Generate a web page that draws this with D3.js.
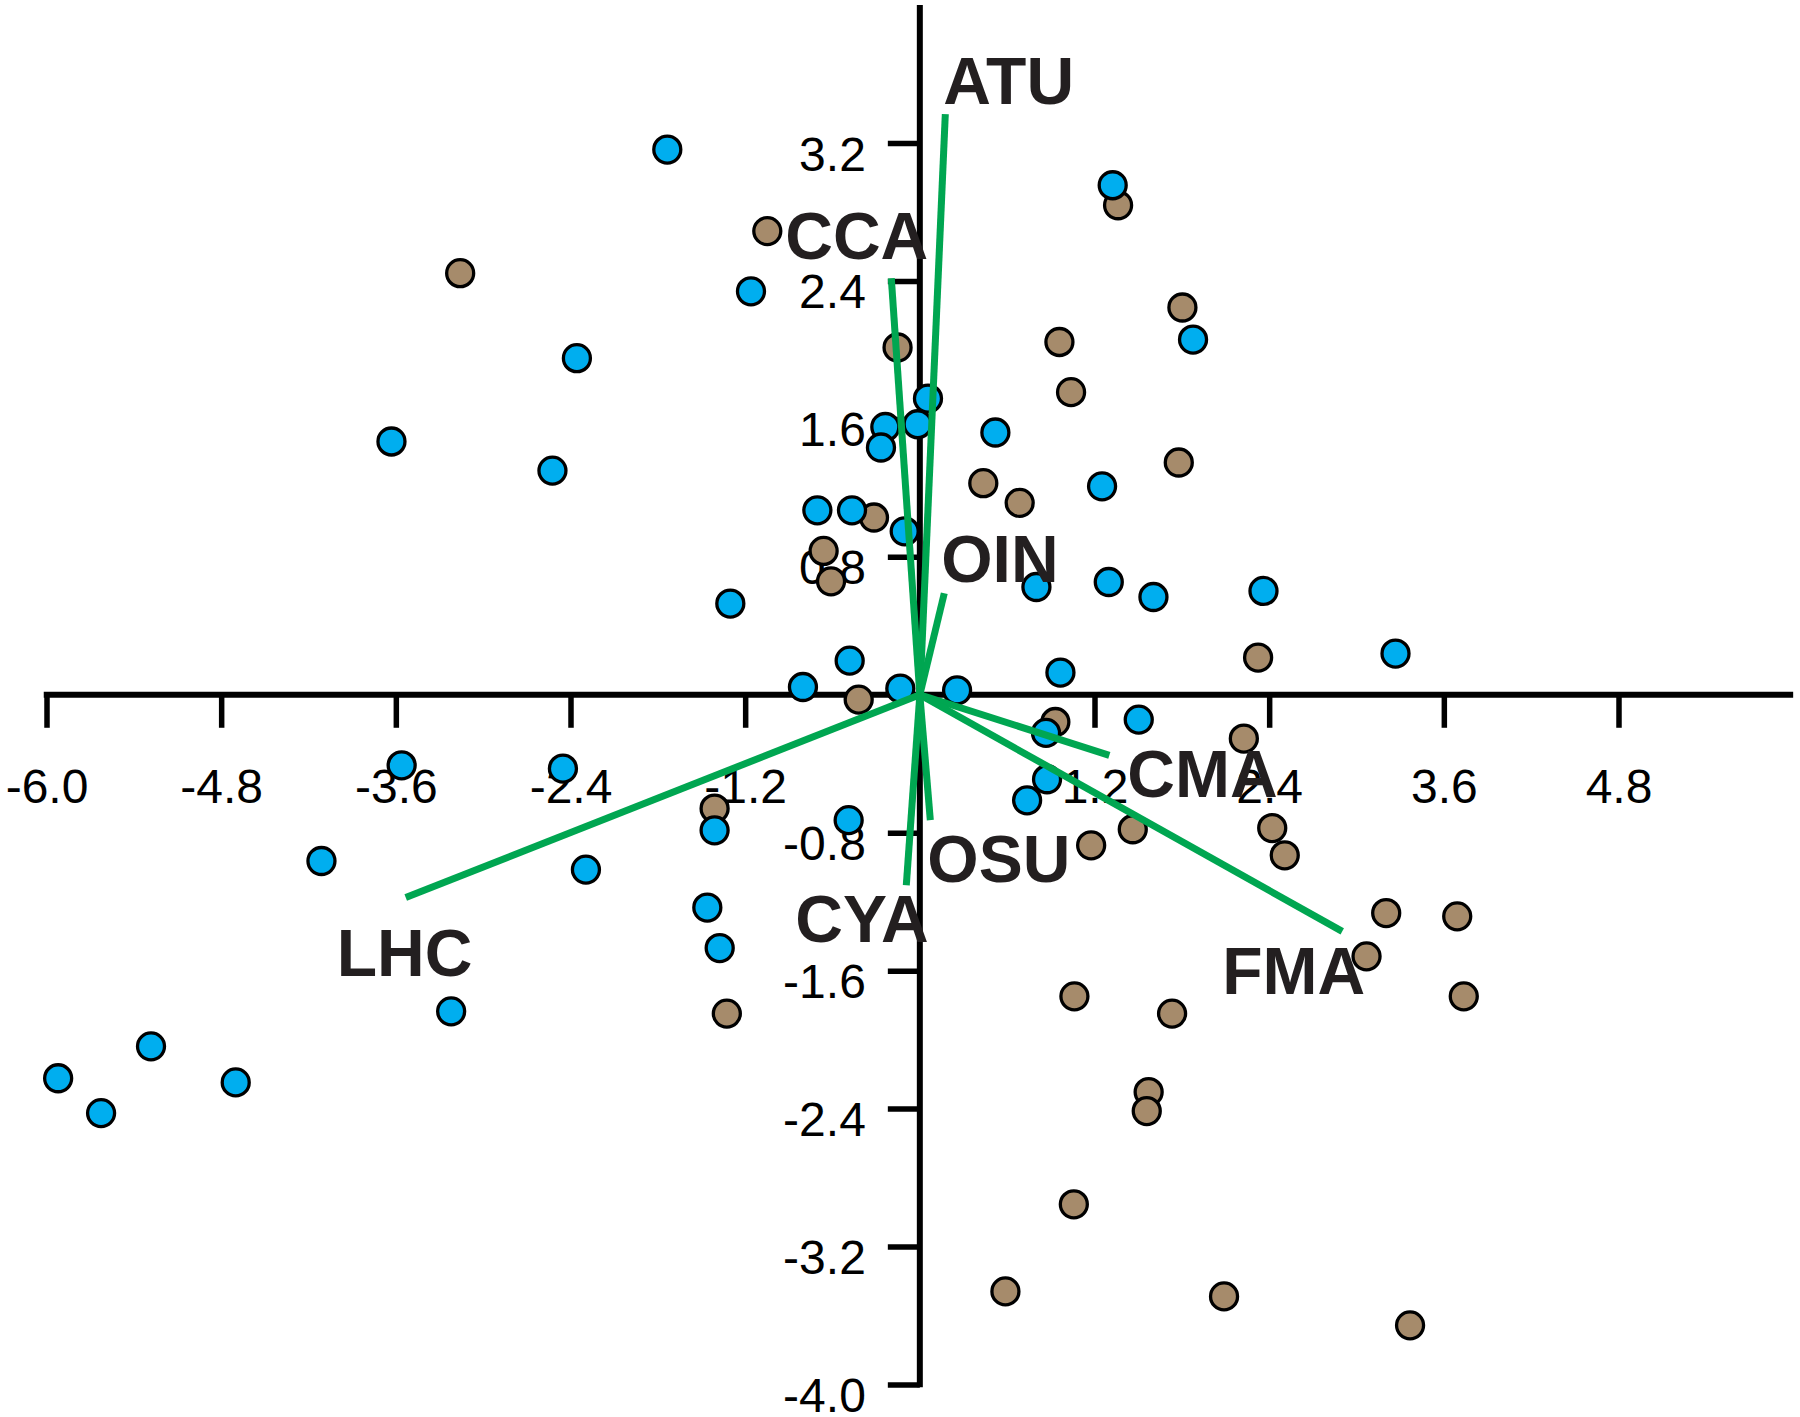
<!DOCTYPE html>
<html>
<head>
<meta charset="utf-8">
<script src="https://cdn.jsdelivr.net/npm/d3@7"></script>
<style>
  html, body { margin: 0; padding: 0; background: #ffffff; }
  svg { display: block; }
</style>
</head>
<body>
<script>
// ---------------- DATA ----------------
const xTicks = [-6.0, -4.8, -3.6, -2.4, -1.2, 1.2, 2.4, 3.6, 4.8];
const yTicks = [3.2, 2.4, 1.6, 0.8, -0.8, -1.6, -2.4, -3.2, -4.0];

// Group 1 (blue) scores
const blueX = [-1.735, 1.325, -1.160, -2.356, 1.877, -3.630, -2.524, 0.056, -0.015, -0.237,
  -0.267, 0.519, 1.252, -0.704, -0.466, -0.104, 0.801, 1.298, 1.605, 2.361,
  -1.302, -0.482, 3.268, 0.966, -0.803, -0.134, 0.256, 1.504, 0.867, -3.560,
  -2.452, 0.874, 0.737, -0.489, -1.410, -4.111, -2.294, -1.460, -1.375, -3.220,
  -5.282, -5.920, -4.700, -5.625];
const blueY = [3.162, 2.955, 2.340, 1.952, 2.060, 1.469, 1.300, 1.718, 1.569, 1.553,
  1.434, 1.521, 1.209, 1.070, 1.070, 0.948, 0.625, 0.654, 0.567, 0.602,
  0.529, 0.198, 0.239, 0.129, 0.045, 0.036, 0.026, -0.144, -0.221, -0.409,
  -0.428, -0.490, -0.612, -0.727, -0.786, -0.964, -1.014, -1.234, -1.469, -1.836,
  -2.039, -2.224, -2.248, -2.426];

// Group 2 (brown) scores
const brownX = [1.362, -1.048, -3.158, 1.804, 0.959, -0.153, 1.039, 1.779, 0.436, 0.686,
  -0.315, -0.661, -0.610, 2.324, -0.420, 0.931, 2.226, -1.410, 1.463, 2.421,
  1.177, 2.507, 3.204, 3.692, 3.069, 1.062, 3.737, -1.326, 1.733, 1.572,
  1.559, 1.058, 0.588, 2.090, 3.368];
const brownY = [2.839, 2.689, 2.445, 2.246, 2.046, 2.014, 1.755, 1.347, 1.227, 1.113,
  1.028, 0.834, 0.658, 0.216, -0.028, -0.158, -0.254, -0.660, -0.780, -0.773,
  -0.873, -0.931, -1.266, -1.285, -1.517, -1.749, -1.749, -1.849, -1.849, -2.304,
  -2.414, -2.955, -3.460, -3.489, -3.657];

// Variable loadings (biplot vectors)
const vectorNames = ["ATU", "CCA", "OIN", "CMA", "FMA", "LHC", "OSU", "CYA"];
const vectorX = [0.175, -0.196, 0.168, 1.302, 2.902, -3.532, 0.072, -0.093];
const vectorY = [3.367, 2.416, 0.589, -0.351, -1.372, -1.176, -0.727, -1.105];

// ---------------- STYLE / LAYOUT ----------------
const W = 1800, H = 1417;
const labelOffset = {
  ATU: [-2, -10], CCA: [-106, -19], OIN: [-3, -11], CMA: [18, 42],
  FMA: [-120, 63], LHC: [-69, 78], OSU: [-3, 62], CYA: [-111, 57]
};
const BLUE = "#00aeef", BROWN = "#a68b6b", GREEN = "#00a651", TXT = "#231f20";
const FONT = "'Liberation Sans', Arial, Helvetica, sans-serif";

const svg = d3.select("body").append("svg")
  .attr("width", W).attr("height", H)
  .attr("viewBox", `0 0 ${W} ${H}`);
svg.append("rect").attr("width", W).attr("height", H).attr("fill", "#fff");

const x = d3.scaleLinear().domain([-6, 4.8]).range([46.5, 1618.5]);
const y = d3.scaleLinear().domain([-4, 3.2]).range([1384.5, 143]);
const x0 = x(0), y0 = y(0);

// ---------------- AXES ----------------
const fmt = d => d.toFixed(1);   // plain hyphen-minus like the reference
const gx = svg.append("g").attr("transform", `translate(0,${y0})`)
  .call(d3.axisBottom(x).tickValues(xTicks).tickSize(33).tickSizeOuter(0).tickFormat(fmt));
gx.select(".domain").remove();
gx.selectAll(".tick line").attr("stroke", "#000").attr("stroke-width", 5.5);
gx.selectAll(".tick text")
  .attr("y", 108).attr("dy", 0)
  .attr("fill", "#000")
  .style("font-family", FONT).style("font-size", "48px");

const gy = svg.append("g").attr("transform", `translate(${x0},0)`)
  .call(d3.axisLeft(y).tickValues(yTicks).tickSize(32).tickSizeOuter(0).tickFormat(fmt));
gy.select(".domain").remove();
gy.selectAll(".tick line").attr("stroke", "#000").attr("stroke-width", 5.5);
gy.selectAll(".tick text")
  .attr("x", -54).attr("y", 27).attr("dy", 0)
  .attr("fill", "#000")
  .style("font-family", FONT).style("font-size", "48px");

// main axis lines
svg.append("line")
  .attr("x1", x(-6) - 2.75).attr("x2", x(6)).attr("y1", y0).attr("y2", y0)
  .attr("stroke", "#000").attr("stroke-width", 6);
svg.append("line")
  .attr("x1", x0).attr("x2", x0).attr("y1", y(4)).attr("y2", y(-4) + 2.75)
  .attr("stroke", "#000").attr("stroke-width", 6);

// ---------------- POINTS ----------------
const brown = brownX.map((v, i) => ({ x: v, y: brownY[i] }));
const blue = blueX.map((v, i) => ({ x: v, y: blueY[i] }));

svg.append("g").selectAll("circle").data(brown).join("circle")
  .attr("cx", d => x(d.x)).attr("cy", d => y(d.y)).attr("r", 13.5)
  .attr("fill", BROWN).attr("stroke", "#000").attr("stroke-width", 3.3);
svg.append("g").selectAll("circle").data(blue).join("circle")
  .attr("cx", d => x(d.x)).attr("cy", d => y(d.y)).attr("r", 13.5)
  .attr("fill", BLUE).attr("stroke", "#000").attr("stroke-width", 3.3);

// ---------------- VECTORS ----------------
const vecs = vectorNames.map((n, i) => ({ name: n, x: vectorX[i], y: vectorY[i] }));
svg.append("g").selectAll("line").data(vecs).join("line")
  .attr("x1", x0).attr("y1", y0)
  .attr("x2", d => x(d.x)).attr("y2", d => y(d.y))
  .attr("stroke", GREEN).attr("stroke-width", 7);

svg.append("g").selectAll("text").data(vecs).join("text")
  .attr("x", d => x(d.x) + labelOffset[d.name][0])
  .attr("y", d => y(d.y) + labelOffset[d.name][1])
  .attr("fill", TXT)
  .style("font-family", FONT).style("font-weight", "bold").style("font-size", "66px")
  .text(d => d.name);
</script>
</body>
</html>
